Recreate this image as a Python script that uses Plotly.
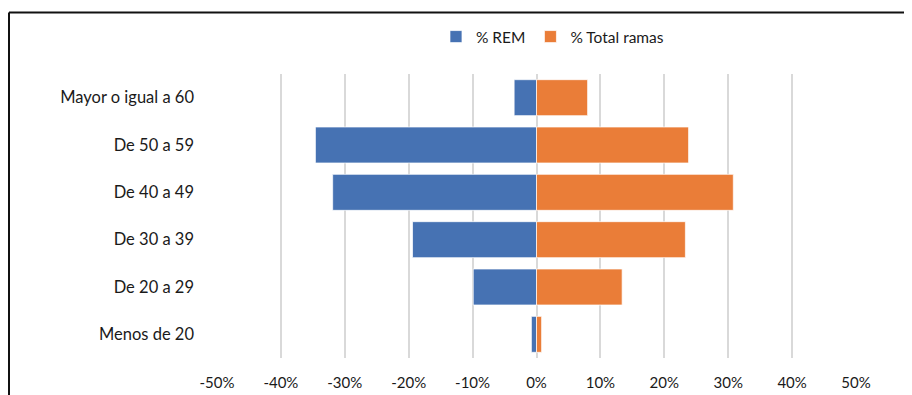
import plotly.graph_objects as go

categories = ["Menos de 20", "De 20 a 29", "De 30 a 39", "De 40 a 49", "De 50 a 59", "Mayor o igual a 60"]
rem = [-0.8, -9.9, -19.4, -31.9, -34.6, -3.5]
total_ramas = [0.8, 13.4, 23.3, 30.8, 23.8, 8.0]
tick_vals = [-50, -40, -30, -20, -10, 0, 10, 20, 30, 40, 50]
tick_text = ["-50%", "-40%", "-30%", "-20%", "-10%", "0%", "10%", "20%", "30%", "40%", "50%"]

FONT = "Lato"
TXT = "#1a1a1a"

W, H = 904, 387
L, R, T, B = 209, 56, 66, 37
PW, PH = W - L - R, H - T - B

fig = go.Figure()
fig.add_trace(go.Bar(
    y=categories, x=rem, orientation="h", name="% REM",
    marker=dict(color="#4672B3", line=dict(color="rgba(255,255,255,0.7)", width=1)),
))
fig.add_trace(go.Bar(
    y=categories, x=total_ramas, orientation="h", name="% Total ramas",
    marker=dict(color="#EA7D38", line=dict(color="rgba(255,255,255,0.7)", width=1)),
))

top_y = 1 + (T - 4.5) / PH
left_x = (1 - L) / PW

fig.update_layout(
    width=W, height=H,
    margin=dict(l=L, r=R, t=T, b=B, autoexpand=False),
    barmode="relative",
    bargap=0.24,
    paper_bgcolor="white",
    plot_bgcolor="white",
    font=dict(family=FONT, size=15, color=TXT),
    legend=dict(
        orientation="h", x=0.525, xanchor="center", y=1 + (T - 29) / PH, yanchor="middle",
        font=dict(family=FONT, size=15.5, color=TXT),
        bgcolor="rgba(0,0,0,0)",
        itemwidth=30, traceorder="normal",
    ),
    showlegend=True,
    xaxis=dict(
        range=[-50, 50], tickvals=tick_vals, ticktext=tick_text,
        showgrid=True, gridcolor="#d9d9d9", gridwidth=1.5,
        zeroline=True, zerolinecolor="#d9d9d9", zerolinewidth=1.5,
        showline=False, ticks="", ticklabelstandoff=14,
        tickfont=dict(family=FONT, size=15, color=TXT),
        fixedrange=True, automargin=False,
    ),
    yaxis=dict(
        showgrid=False, zeroline=False, showline=False, ticks="",
        ticklabelstandoff=22,
        tickfont=dict(family=FONT, size=16.5, color=TXT),
        fixedrange=True, automargin=False,
    ),
    shapes=[
        dict(type="line", xref="paper", yref="paper",
             x0=left_x, x1=1 + (R + 10) / PW,
             y0=top_y, y1=top_y,
             line=dict(color="#111", width=2)),
        dict(type="line", xref="paper", yref="paper",
             x0=left_x, x1=left_x,
             y0=top_y, y1=-0.3,
             line=dict(color="#111", width=2)),
    ],
)

fig.write_html("out.html")
